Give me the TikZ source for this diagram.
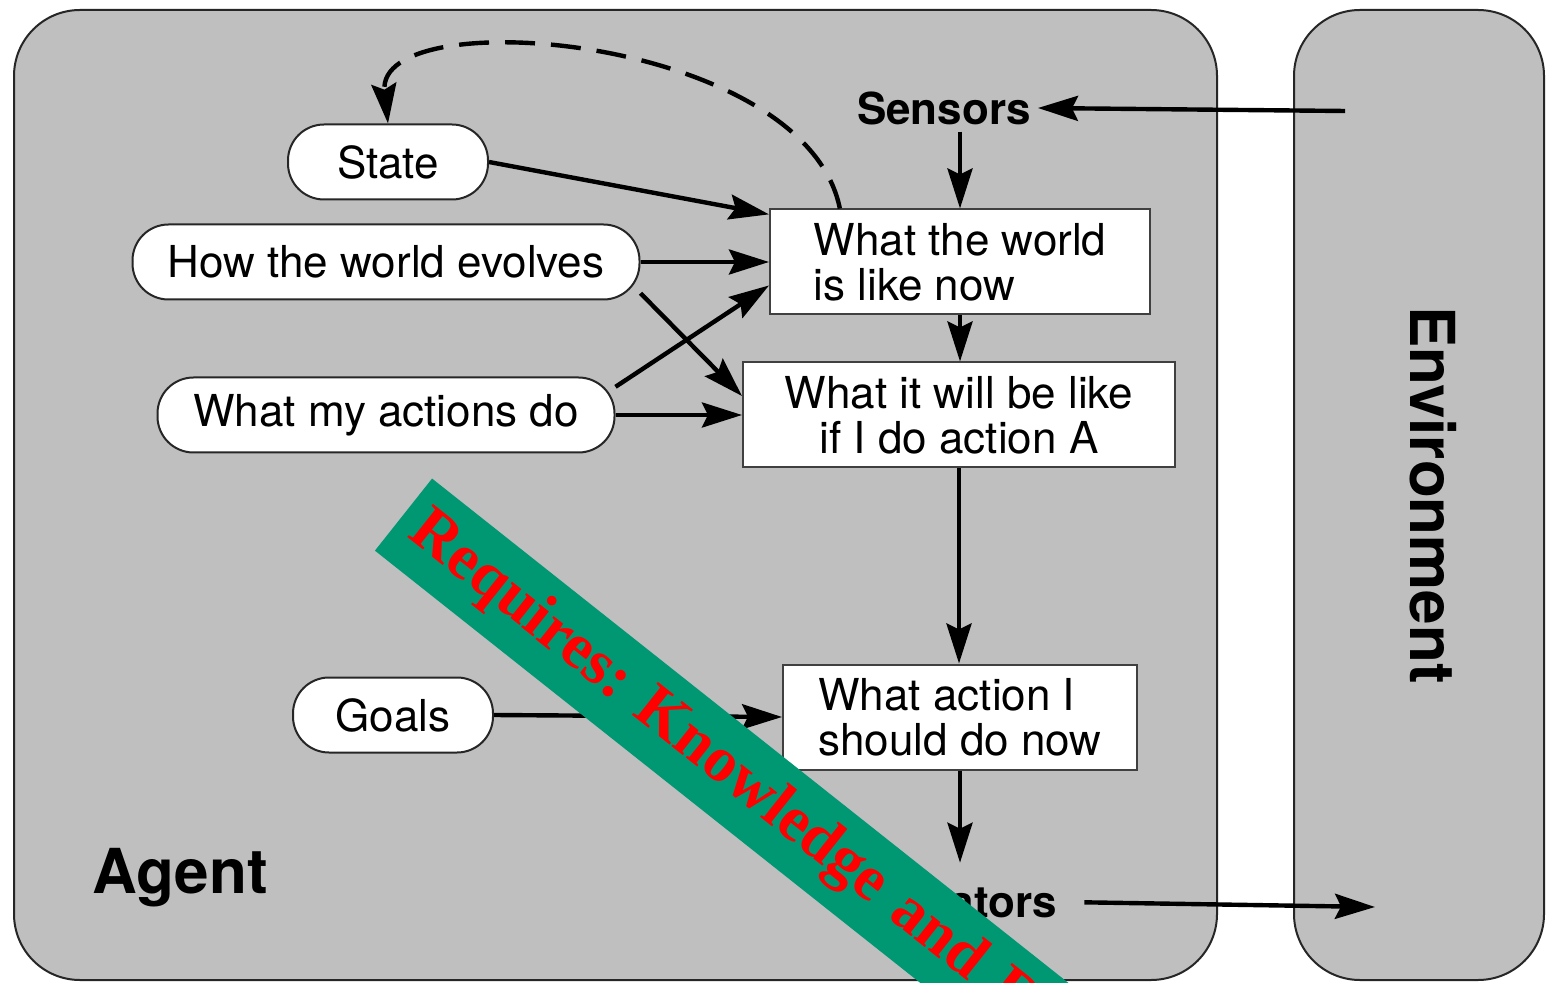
\documentclass[tikz,border=0pt]{standalone}
\usepackage{fontspec}
\setmainfont{TeX Gyre Heros}
\newfontfamily\bannerfont{Liberation Serif}
\usetikzlibrary{arrows.meta,calc}

\definecolor{panelgray}{RGB}{191,191,191}
\definecolor{bannergreen}{RGB}{0,152,115}

\begin{document}
\begin{tikzpicture}[x=0.5pt, y=-0.5pt,
    >={Stealth[length=20pt,width=12.5pt,inset=3pt]},
    flow/.style={->, line width=2.2pt},
    panel/.style={draw=black!85, line width=1pt, fill=panelgray, rounded corners=33pt},
    oval/.style={rectangle, rounded corners=18pt, draw=black!85, line width=1pt, fill=white,
                 minimum height=37.5pt, inner xsep=3pt, font=\fontsize{22}{24}\selectfont},
    box/.style={rectangle, draw=black!75, line width=1pt, fill=white, minimum height=52.5pt,
                align=left, font=\fontsize{22}{22.5}\selectfont},
    port/.style={font=\fontsize{22}{24}\selectfont\bfseries},
    title/.style={font=\fontsize{31}{34}\selectfont\bfseries},
    banner/.style={fill=bannergreen, text=red, minimum height=46pt, text width=800pt,
                   align=left, inner xsep=8pt, inner ysep=0pt,
                   font=\bannerfont\bfseries\fontsize{32}{34}\selectfont\frenchspacing}]
      \useasboundingbox (0,0) rectangle (1546,983);
      \clip (0,0) rectangle (1546,983);
      \fill[white] (0,0) rectangle (1546,983);

      % Agent and environment panels
      \draw[panel] (14,10) rectangle (1217,980);
      \draw[panel] (1294,10) rectangle (1544,980);
      \node[title] (agentlbl) at (180,878) {Agent};
      \node[title, rotate=-90] (envlbl) at (1433,495) {Environment};

      % Inner state and knowledge
      \node[oval, minimum width=100pt] (state) at (388,162) {State};
      \node[oval, minimum width=253.5pt] (evolves) at (386,262) {How the world evolves};
      \node[oval, minimum width=228.5pt] (actions) at (386,415) {What my actions do};
      \node[oval, minimum width=100pt] (goals) at (393,715) {Goals};

      % Reasoning steps
      \node[box, minimum width=190pt] (now) at (960,262) {What the world\\is like now};
      \node[box, minimum width=216pt, align=center] (future) at (959,415) {What it will be like\\if I do action A};
      \node[box, minimum width=177pt] (decide) at (960,717) {What action I\\should do now};

      % Sensors and actuators
      \node[port] (sensors) at (944,108) {Sensors};
      \node[port] (act) at (955,902) {Actuators};
      \coordinate (envin) at (1345,111);
      \coordinate (envout) at (1375,907);

      % Connections
      \draw[flow] (envin) -- (sensors.east);
      \draw[flow] (now.north |- sensors.south) -- (now.north);
      \draw[flow] (state.east) -- (now.166);
      \draw[flow] (evolves.east) -- (now.west);
      \draw[flow] (evolves.-7) -- (future.175);
      \draw[flow] (actions.7) -- (now.187);
      \draw[flow] (actions.east) -- (future.west);
      \draw[flow] (now.south) -- (future.north -| now.south);
      \draw[flow] (future.south) -- (decide.north -| future.south);
      \draw[flow] (goals.east) -- (decide.west);
      \draw[flow] (decide.south) -- ($(decide.south |- act.north)+(0,-16)$);
      \draw[flow, shorten <=10pt] (act.east) -- (envout);

      % State update (dashed)
      \draw[flow, dash pattern=on 15pt off 8pt] (now.156) .. controls (805,35) and (375,0) .. (state.north);

      % Banner across the figure
      \node[banner, rotate=-38.4, anchor=north west] (note) at (432,478) {Requires: Knowledge and R};
\end{tikzpicture}
\end{document}
